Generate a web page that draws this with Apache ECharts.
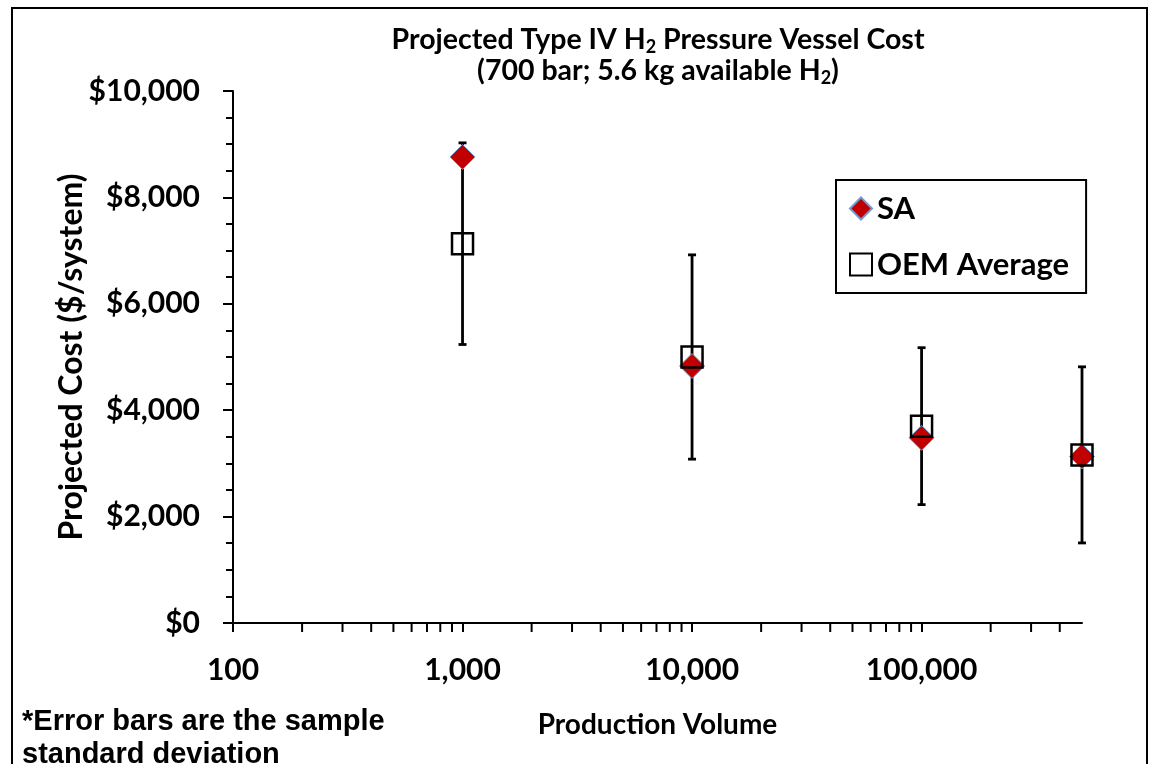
<!DOCTYPE html>
<html>
<head>
<meta charset="utf-8">
<script src="https://cdn.jsdelivr.net/npm/echarts@6/dist/echarts.min.js"></script>
<style>
  html, body { margin: 0; padding: 0; background: #fff; }
  #chart { width: 1152px; height: 764px; }
</style>
</head>
<body>
<div id="chart"></div>
<script>
// production volume (systems/year)
const volumes = [1000, 10000, 100000, 500000]
// SA projected cost ($/system)
const saCost = [8760, 4830, 3480, 3130]
// OEM average projected cost ($/system)
const oemCost = [7130, 5000, 3700, 3160]
// sample standard deviation of the OEM values
const oemStdDev = [1895, 1920, 1475, 1655]
// minor ticks of the log axis
const xMinorTicks = [200, 300, 400, 500, 600, 700, 800, 900,
  2000, 3000, 4000, 5000, 6000, 7000, 8000, 9000,
  20000, 30000, 40000, 50000, 60000, 70000, 80000, 90000,
  200000, 300000, 400000]

const font = 'Lato'
const chart = echarts.init(document.getElementById('chart'))

const errorData = volumes.map((v, i) => [v, oemCost[i] - oemStdDev[i], oemCost[i] + oemStdDev[i]])

const renderErrorBar = (params, api) => {
  const x = api.value(0)
  const lo = api.coord([x, api.value(1)])
  const hi = api.coord([x, api.value(2)])
  const cap = 4
  const style = { stroke: '#000', lineWidth: 2.8 }
  return {
    type: 'group',
    children: [
      { type: 'line', shape: { x1: lo[0], y1: lo[1], x2: hi[0], y2: hi[1] }, style },
      { type: 'line', shape: { x1: lo[0] - cap, y1: lo[1], x2: lo[0] + cap, y2: lo[1] }, style },
      { type: 'line', shape: { x1: hi[0] - cap, y1: hi[1], x2: hi[0] + cap, y2: hi[1] }, style }
    ]
  }
}

const renderMinorTick = (params, api) => {
  const p = api.coord([api.value(0), 0])
  return {
    type: 'line',
    shape: { x1: p[0], y1: p[1], x2: p[0], y2: p[1] + 9 },
    style: { stroke: '#000', lineWidth: 2 }
  }
}

const option = {
  backgroundColor: '#fff',
  animation: false,
  title: {
    text: '{a|Projected Type IV H}{s|2}{a| Pressure Vessel Cost}\n{a|(700 bar; 5.6 kg available H}{s|2}{a|)}',
    left: 653,
    top: 19,
    textAlign: 'center',
    textStyle: {
      rich: {
        a: { fontFamily: font, fontWeight: 'bold', fontSize: 28.5, color: '#000', lineHeight: 31 },
        s: { fontFamily: font, fontWeight: 'bold', fontSize: 18, color: '#000', lineHeight: 31, padding: [15, 0, 0, 0] }
      }
    }
  },
  legend: {
    orient: 'vertical',
    left: 836,
    top: 180,
    data: ['SA', 'OEM Average'],
    borderColor: '#000',
    borderWidth: 2,
    padding: [12, 17, 12, 13],
    itemGap: 23,
    itemWidth: 22,
    itemHeight: 22,
    textStyle: { fontFamily: font, fontWeight: 'bold', fontSize: 31, color: '#000', lineHeight: 33 }
  },
  grid: { left: 233, right: 70, top: 91, bottom: 141 },
  xAxis: {
    type: 'log',
    logBase: 10,
    min: 100,
    max: 500000,
    name: 'Production Volume',
    nameLocation: 'middle',
    nameGap: 88,
    nameTextStyle: { fontFamily: font, fontWeight: 'bold', fontSize: 28, color: '#000' },
    axisLine: { lineStyle: { color: '#000', width: 2 } },
    axisTick: { length: 9, lineStyle: { color: '#000', width: 2 } },
    axisLabel: {
      fontFamily: font, fontWeight: 'bold', fontSize: 30, color: '#000', margin: 32,
      showMaxLabel: false,
      formatter: v => Number(v).toLocaleString('en-US')
    },
    splitLine: { show: false },
    minorTick: { show: false },
    minorSplitLine: { show: false }
  },
  yAxis: {
    type: 'value',
    min: 0,
    max: 10000,
    interval: 2000,
    name: 'Projected Cost ($/system)',
    nameLocation: 'middle',
    nameGap: 145,
    nameMoveOverlap: false,
    nameTextStyle: { fontFamily: font, fontWeight: 'bold', fontSize: 32, color: '#000' },
    axisLine: { show: true, lineStyle: { color: '#000', width: 2 } },
    axisTick: { show: true, length: 10, lineStyle: { color: '#000', width: 2 } },
    minorTick: { show: true, splitNumber: 4, length: 7, lineStyle: { color: '#000', width: 2 } },
    axisLabel: {
      fontFamily: font, fontWeight: 'bold', fontSize: 30, color: '#000', margin: 33,
      formatter: v => '$' + Number(v).toLocaleString('en-US')
    },
    splitLine: { show: false }
  },
  graphic: [
    {
      type: 'rect',
      shape: { x: 12, y: 8, width: 1135, height: 800 },
      style: { fill: 'none', stroke: '#000', lineWidth: 2 },
      silent: true
    },
    {
      type: 'text',
      left: 22,
      top: 705,
      style: {
        text: '*Error bars are the sample\nstandard deviation',
        font: 'bold 29px "Liberation Sans", Arial, sans-serif',
        fill: '#000',
        lineHeight: 33
      }
    }
  ],
  series: [
    {
      name: 'minorTicks',
      type: 'custom',
      renderItem: renderMinorTick,
      data: xMinorTicks.map(v => [v]),
      silent: true,
      z: 1
    },
    {
      name: 'errorBars',
      type: 'custom',
      renderItem: renderErrorBar,
      data: errorData,
      silent: true,
      z: 2
    },
    {
      name: 'SA',
      type: 'scatter',
      symbol: 'diamond',
      symbolSize: 25,
      data: volumes.map((v, i) => [v, saCost[i]]),
      itemStyle: { color: '#C00000', borderColor: '#6F9BD1', borderWidth: 1, opacity: 1 },
      z: 3
    },
    {
      name: 'OEM Average',
      type: 'scatter',
      symbol: 'rect',
      symbolSize: 21,
      data: volumes.map((v, i) => [v, oemCost[i]]),
      itemStyle: { color: 'rgba(255,255,255,0)', borderColor: '#000', borderWidth: 2.5, opacity: 1 },
      z: 4
    }
  ]
}

chart.setOption(option)
</script>
</body>
</html>
